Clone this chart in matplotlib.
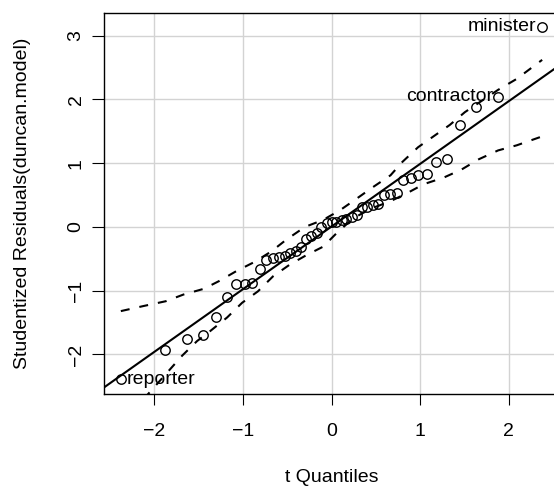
import matplotlib
matplotlib.use("Agg")
import matplotlib.pyplot as plt

plt.rcParams['font.family'] = ['Liberation Sans', 'DejaVu Sans']

# t quantiles (df = 41) and sorted studentized residuals, 45 occupations
t_quant = [-2.377, -1.884, -1.628, -1.447, -1.303, -1.181, -1.074, -0.979, -0.892, -0.810,
           -0.735, -0.663, -0.594, -0.528, -0.464, -0.403, -0.343, -0.284, -0.226, -0.169,
           -0.113, -0.056, 0.0, 0.056, 0.113, 0.169, 0.226, 0.284, 0.343, 0.403,
           0.464, 0.528, 0.594, 0.663, 0.735, 0.810, 0.892, 0.979, 1.074, 1.181,
           1.303, 1.447, 1.628, 1.884, 2.377]
resid = [-2.39, -1.93, -1.76, -1.70, -1.42, -1.10, -0.90, -0.895, -0.885, -0.66,
         -0.515, -0.49, -0.47, -0.45, -0.41, -0.38, -0.31, -0.19, -0.14, -0.10,
         0.005, 0.06, 0.07, 0.07, 0.11, 0.12, 0.15, 0.19, 0.31, 0.32,
         0.34, 0.36, 0.50, 0.515, 0.53, 0.73, 0.77, 0.81, 0.83, 1.02,
         1.07, 1.60, 1.88, 2.04, 3.14]

# labelled points (index in sorted order)
lab_idx = [44, 43, 0]
lab_names = ['minister', 'contractor', 'reporter']

# robust reference line
line_intercept = 0.006
line_slope = 0.983

# simulated envelope
up_x = [-2.377, -2.12, -1.87, -1.67, -1.44, -1.27, -1.07, -0.87, -0.68, -0.51,
        -0.30, -0.095, 0.094, 0.28, 0.463, 0.666, 0.80, 0.977, 1.166, 1.335,
        1.505, 1.88, 2.088, 2.377]
up_y = [-1.32, -1.24, -1.165, -1.06, -0.97, -0.85, -0.69, -0.55, -0.385, -0.20,
        0.0, 0.11, 0.26, 0.44, 0.62, 0.81, 1.02, 1.25, 1.435, 1.60,
        1.80, 2.15, 2.32, 2.62]
lo_x = [-2.12, -2.005, -1.686, -1.517, -1.366, -1.178, -1.009, -0.83, -0.66, -0.47,
        -0.28, -0.095, 0.056, 0.244, 0.45, 0.66, 0.846, 1.04, 1.268, 1.467,
        1.66, 1.88, 2.09, 2.295, 2.377]
lo_y = [-2.70, -2.52, -2.02, -1.79, -1.63, -1.42, -1.19, -1.01, -0.775, -0.59,
        -0.44, -0.31, -0.10, 0.135, 0.29, 0.40, 0.525, 0.67, 0.775, 0.90,
        1.06, 1.20, 1.28, 1.38, 1.42]

W, H = 554, 487
fig = plt.figure(figsize=(W / 100, H / 100), dpi=100)
ax = fig.add_axes([104 / W, 93 / H, 455 / W, 381 / H])

ax.set_xlim(-2.567, 2.567)
ax.set_ylim(-2.62, 3.355)
ax.set_xticks([-2, -1, 0, 1, 2])
ax.set_yticks([-2, -1, 0, 1, 2, 3])
ax.grid(True, color='#d3d3d3', lw=1.0)
ax.set_axisbelow(True)

ax.axline((0, line_intercept), slope=line_slope, color='black', lw=1.5, zorder=3)
ax.plot(up_x, up_y, color='black', lw=1.5, dashes=(4.3, 4.8), zorder=3)
ax.plot(lo_x, lo_y, color='black', lw=1.5, dashes=(4.3, 4.8), zorder=3)
ax.plot(t_quant, resid, 'o', ms=6.8, mfc='none', mec='black', mew=1.0, zorder=4)

for i, name in zip(lab_idx, lab_names):
    if t_quant[i] > 0:
        ax.annotate(name, (t_quant[i], resid[i]), xytext=(-4, 0), textcoords='offset points',
                    ha='right', va='center', fontsize=14)
    else:
        ax.annotate(name, (t_quant[i], resid[i]), xytext=(4, 0), textcoords='offset points',
                    ha='left', va='center', fontsize=14)

ax.spines['right'].set_visible(False)
for s in ['left', 'top', 'bottom']:
    ax.spines[s].set_linewidth(1.0)

ax.tick_params(axis='x', direction='out', length=8, width=0.8, labelsize=14, pad=13)
ax.tick_params(axis='y', direction='out', length=9, width=0.8, labelsize=14, pad=5)
for lab in ax.get_yticklabels():
    lab.set_rotation(90)
    lab.set_va('center')

fig.text(331.5 / W, 1 - 478 / H, 't Quantiles', ha='center', va='center', fontsize=14)
fig.text(23 / W, 1 - 203 / H, 'Studentized Residuals(duncan.model)', ha='center', va='center',
         rotation=90, fontsize=14)

fig.savefig('out.png', dpi=100)
